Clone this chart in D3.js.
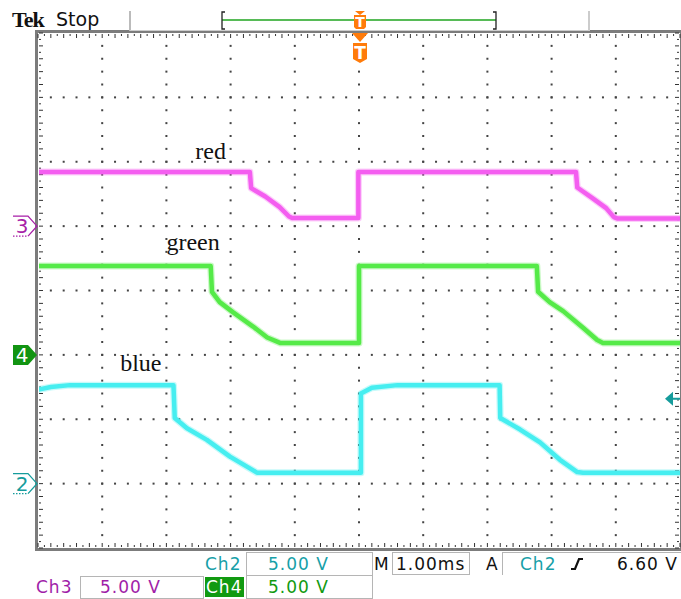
<!DOCTYPE html>
<html>
<head>
<meta charset="utf-8">
<script src="https://cdn.jsdelivr.net/npm/d3@7"></script>
<style>
body { margin: 0; background: #fff; }
svg { display: block; }
</style>
</head>
<body>
<svg id="scope"></svg>
<script>
// time in ms (0 = trigger), voltage in V
var redTime   = [-5, -1.70, -1.68, -1.46, -1.24, -1.09, -1.04, -0.01, -0.01, 3.38, 3.40, 3.63, 3.85, 3.97, 4.02, 5]
var redVolt   = [4.2, 4.2, 2.95, 2.3, 1.5, 0.75, 0.63, 0.63, 4.2, 4.2, 3.0, 2.2, 1.4, 0.7, 0.6, 0.6]

var greenTime = [-5, -2.31, -2.29, -2.17, -1.96, -1.65, -1.43, -1.23, 0.0, 0.0, 2.77, 2.79, 2.97, 3.18, 3.49, 3.71, 3.80, 5]
var greenVolt = [6.9, 6.9, 4.9, 4.1, 3.3, 2.2, 1.35, 0.93, 0.93, 6.9, 6.9, 4.9, 4.1, 3.4, 2.1, 1.15, 0.93, 0.93]

var blueTime  = [-5, -4.8, -4.5, -2.89, -2.87, -2.68, -2.37, -2.01, -1.74, -1.59, 0.03, 0.03, 0.2, 0.6, 2.19, 2.20, 2.51, 2.82, 3.13, 3.40, 3.49, 5]
var blueVolt  = [7.3, 7.5, 7.65, 7.65, 5.1, 4.3, 3.4, 2.1, 1.3, 0.85, 0.85, 7.0, 7.45, 7.65, 7.65, 5.1, 4.2, 3.2, 1.85, 0.9, 0.85, 0.85]

var channelNames  = ["Ch3", "Ch4", "Ch2"]
var traceLabels   = ["red", "green", "blue"]
var groundDivs    = [1, -1, -3]       // ground marker position, divisions
var voltsPerDiv   = [5, 5, 5]
var labelTimes    = [-2.55, -3.0, -3.72]  // where the hand written labels sit
var labelLevels   = [2.05, 0.63, -1.25]   // divisions

var triggerLevel = 6.60
var timePerDiv = "1.00ms"

var width = 681, height = 599
var plot = { left: 38, right: 680, top: 33, bottom: 548 }

var svg = d3.select("#scope")
    .attr("width", width)
    .attr("height", height)
    .style("font-family", "'DejaVu Sans', sans-serif")

svg.append("rect").attr("width", width).attr("height", height).attr("fill", "#fff")

var xScale = d3.scaleLinear().domain([-5, 5]).range([plot.left, plot.right])
var yScale = d3.scaleLinear().domain([-4, 4]).range([plot.bottom, plot.top])

// graticule: dots every minor division along each major line
var grid = svg.append("g").attr("fill", "#444")
var majorX = d3.range(-4, 5)
var majorY = d3.range(-3, 4)
var minorX = d3.range(-50, 51, 2).map(d => d / 10)
var minorY = d3.range(-40, 41, 2).map(d => d / 10)

majorX.forEach(function (mx) {
  grid.selectAll(null).data(minorY.slice(1, -1)).enter().append("rect")
      .attr("x", xScale(mx) - 1).attr("y", d => yScale(d) - 1)
      .attr("width", 2).attr("height", 2)
})
majorY.forEach(function (my) {
  grid.selectAll(null).data(minorX.slice(1, -1)).enter().append("rect")
      .attr("x", d => xScale(d) - 1).attr("y", yScale(my) - 1)
      .attr("width", 2).attr("height", 2)
})

// frame with edge ticks
var frame = svg.append("g")
frame.append("rect")
    .attr("x", plot.left - 1.5).attr("y", plot.top - 1.5)
    .attr("width", plot.right - plot.left + 3).attr("height", plot.bottom - plot.top + 3)
    .attr("fill", "none").attr("stroke", "#7c7c7c").attr("stroke-width", 3)

var fineX = d3.range(-250, 251, 5).map(d => d / 50)
var fineY = d3.range(-200, 201, 5).map(d => d / 50)
function tickLen(v) { return Math.abs(v * 5 - Math.round(v * 5)) < 1e-6 ? 4 : 2 }

frame.selectAll(null).data(fineX).enter().append("line")
    .attr("x1", d => xScale(d)).attr("x2", d => xScale(d))
    .attr("y1", plot.top + 1).attr("y2", d => plot.top + 1 + tickLen(d))
    .attr("stroke", "#333").attr("stroke-width", 1)
frame.selectAll(null).data(fineX).enter().append("line")
    .attr("x1", d => xScale(d)).attr("x2", d => xScale(d))
    .attr("y1", plot.bottom - 1).attr("y2", d => plot.bottom - 1 - tickLen(d))
    .attr("stroke", "#333").attr("stroke-width", 1)
frame.selectAll(null).data(fineY).enter().append("line")
    .attr("y1", d => yScale(d)).attr("y2", d => yScale(d))
    .attr("x1", plot.left + 1).attr("x2", d => plot.left + 1 + tickLen(d))
    .attr("stroke", "#333").attr("stroke-width", 1)
frame.selectAll(null).data(fineY).enter().append("line")
    .attr("y1", d => yScale(d)).attr("y2", d => yScale(d))
    .attr("x1", plot.right - 1).attr("x2", d => plot.right - 1 - tickLen(d))
    .attr("stroke", "#333").attr("stroke-width", 1)

// traces
var traces = [
  { time: redTime, volt: redVolt, color: "#f45ef0", ch: 0 },
  { time: greenTime, volt: greenVolt, color: "#55ea48", ch: 1 },
  { time: blueTime, volt: blueVolt, color: "#46eef0", ch: 2 }
]

svg.append("clipPath").attr("id", "plotClip")
  .append("rect")
    .attr("x", plot.left + 1).attr("y", plot.top)
    .attr("width", plot.right - plot.left - 1).attr("height", plot.bottom - plot.top)

var traceG = svg.append("g").attr("clip-path", "url(#plotClip)")
traces.forEach(function (tr) {
  var pts = tr.time.map((t, i) => [t, tr.volt[i]])
  var line = d3.line()
      .x(d => xScale(d[0]))
      .y(d => yScale(d[1] / voltsPerDiv[tr.ch] + groundDivs[tr.ch]))
  traceG.append("path")
      .attr("d", line(pts))
      .attr("fill", "none")
      .attr("stroke", tr.color)
      .attr("stroke-width", 7)
      .attr("stroke-linejoin", "round")
      .attr("opacity", 0.3)
  traceG.append("path")
      .attr("d", line(pts))
      .attr("fill", "none")
      .attr("stroke", tr.color)
      .attr("stroke-width", 4.5)
      .attr("stroke-linejoin", "round")
})

// hand written labels
svg.selectAll(".lbl").data(traceLabels).enter().append("text")
    .attr("x", (d, i) => xScale(labelTimes[i]))
    .attr("y", (d, i) => yScale(labelLevels[i]))
    .attr("font-family", "'Liberation Serif', serif")
    .attr("font-size", 24)
    .attr("fill", "#111")
    .text(d => d)

// ground markers on the left
var markerColors = ["#a81fa8", "#129412", "#169c9c"]
var markerNums = ["3", "4", "2"]
groundDivs.forEach(function (g, i) {
  var y = yScale(g)
  var m = svg.append("g")
  if (i === 1) {
    m.append("path")
        .attr("d", `M13,${y - 10}H28L37,${y}L28,${y + 10}H13Z`)
        .attr("fill", markerColors[i])
    m.append("text").attr("x", 22).attr("y", y + 7)
        .attr("text-anchor", "middle").attr("font-size", 20)
        .attr("fill", "#fff").text(markerNums[i])
  } else {
    m.append("path")
        .attr("d", `M13,${y - 10}H28L37,${y}L28,${y + 10}`)
        .attr("fill", "none").attr("stroke", markerColors[i]).attr("stroke-width", 1.3)
    m.append("line").attr("x1", 13).attr("x2", 28).attr("y1", y + 10).attr("y2", y + 10)
        .attr("stroke", markerColors[i]).attr("stroke-width", 1.3).attr("stroke-dasharray", "1.5,1.5")
    m.append("text").attr("x", 22).attr("y", y + 7)
        .attr("text-anchor", "middle").attr("font-size", 20)
        .attr("fill", markerColors[i]).text(markerNums[i])
  }
})

// trigger level arrow on the right (Ch2)
var trigY = yScale(triggerLevel / voltsPerDiv[2] + groundDivs[2])
svg.append("path")
    .attr("d", `M665,${trigY}L673,${trigY - 7}V${trigY - 1}H680V${trigY + 1}H673V${trigY + 7}Z`)
    .attr("fill", "#169c9c")

// top status bar
svg.append("text").attr("x", 12).attr("y", 27)
    .attr("font-family", "'Liberation Serif', serif").attr("font-weight", "bold")
    .attr("font-size", 22).attr("letter-spacing", -1).attr("fill", "#111").text("Tek")
svg.append("text").attr("x", 56).attr("y", 26)
    .attr("font-size", 19).attr("fill", "#111").text("Stop")
svg.append("line").attr("x1", 130).attr("x2", 130).attr("y1", 11).attr("y2", 31)
    .attr("stroke", "#bbb").attr("stroke-width", 2)
svg.append("line").attr("x1", 589).attr("x2", 589).attr("y1", 11).attr("y2", 31)
    .attr("stroke", "#ccc").attr("stroke-width", 2)
svg.append("line").attr("x1", 130).attr("x2", 589).attr("y1", 30.5).attr("y2", 30.5)
    .attr("stroke", "#ccc").attr("stroke-width", 1)

// record window bracket
var recStart = 222, recEnd = 496
svg.append("line").attr("x1", recStart).attr("x2", recEnd).attr("y1", 20).attr("y2", 20)
    .attr("stroke", "#1fa51f").attr("stroke-width", 1.5)
svg.append("path").attr("d", `M${recStart + 3},12H${recStart}V29H${recStart + 3}`)
    .attr("fill", "none").attr("stroke", "#222").attr("stroke-width", 1.3)
svg.append("path").attr("d", `M${recEnd - 3},12H${recEnd}V29H${recEnd - 3}`)
    .attr("fill", "none").attr("stroke", "#222").attr("stroke-width", 1.3)

// trigger position markers
var tx = xScale(0) + 1
var orange = "#ff7b0a"
svg.append("path").attr("d", `M${tx - 5},11H${tx + 5}L${tx},15Z`).attr("fill", orange)
svg.append("path").attr("d", `M${tx - 6},15H${tx + 6}V27L${tx + 4},29H${tx - 4}L${tx - 6},27Z`).attr("fill", orange)
svg.append("text").attr("x", tx).attr("y", 27).attr("text-anchor", "middle")
    .attr("font-size", 14).attr("font-weight", "bold").attr("fill", "#fff").text("T")
svg.append("path").attr("d", `M${tx - 8},33H${tx + 8}L${tx},42Z`).attr("fill", orange)
svg.append("path").attr("d", `M${tx - 7},43H${tx + 7}V59L${tx},63L${tx - 7},59Z`).attr("fill", orange)
svg.append("text").attr("x", tx).attr("y", 59).attr("text-anchor", "middle")
    .attr("font-size", 17).attr("font-weight", "bold").attr("fill", "#fff").text("T")

// bottom readout
var teal = "#17a0a8", purple = "#a01ea8", green = "#119a11"
var boxes = [
  [246, 552, 126, 23], [392, 552, 77, 22], [80, 576, 123, 22], [246, 575, 126, 23]
]
svg.selectAll(".box").data(boxes).enter().append("rect")
    .attr("x", d => d[0] + 0.5).attr("y", d => d[1] + 0.5)
    .attr("width", d => d[2]).attr("height", d => d[3])
    .attr("fill", "none").attr("stroke", "#b5b5b5").attr("stroke-width", 1)
svg.append("line").attr("x1", 502.5).attr("x2", 502.5).attr("y1", 552).attr("y2", 575)
    .attr("stroke", "#b5b5b5")
svg.append("line").attr("x1", 502.5).attr("x2", 681).attr("y1", 552.5).attr("y2", 552.5)
    .attr("stroke", "#b5b5b5")
svg.append("rect").attr("x", 205).attr("y", 577).attr("width", 39).attr("height", 20).attr("fill", green)

var readouts = [
  { x: 205, y: 570, text: channelNames[2], fill: teal },
  { x: 268, y: 570, text: voltsPerDiv[2].toFixed(2) + " V", fill: teal },
  { x: 374, y: 570, text: "M", fill: "#111" },
  { x: 396, y: 570, text: timePerDiv, fill: "#111" },
  { x: 486, y: 570, text: "A", fill: "#111" },
  { x: 520, y: 570, text: channelNames[2], fill: teal },
  { x: 617, y: 570, text: triggerLevel.toFixed(2) + " V", fill: "#111" },
  { x: 36, y: 593, text: channelNames[0], fill: purple },
  { x: 100, y: 593, text: voltsPerDiv[0].toFixed(2) + " V", fill: purple },
  { x: 206, y: 593, text: channelNames[1], fill: "#fff" },
  { x: 268, y: 593, text: voltsPerDiv[1].toFixed(2) + " V", fill: green }
]
svg.selectAll(".readout").data(readouts).enter().append("text")
    .attr("x", d => d.x).attr("y", d => d.y)
    .attr("font-size", 17).attr("letter-spacing", 1)
    .attr("fill", d => d.fill).text(d => d.text)

// rising edge symbol
svg.append("path").attr("d", "M571,569H575L579,559H583")
    .attr("fill", "none").attr("stroke", "#111").attr("stroke-width", 2.2)
</script>
</body>
</html>
